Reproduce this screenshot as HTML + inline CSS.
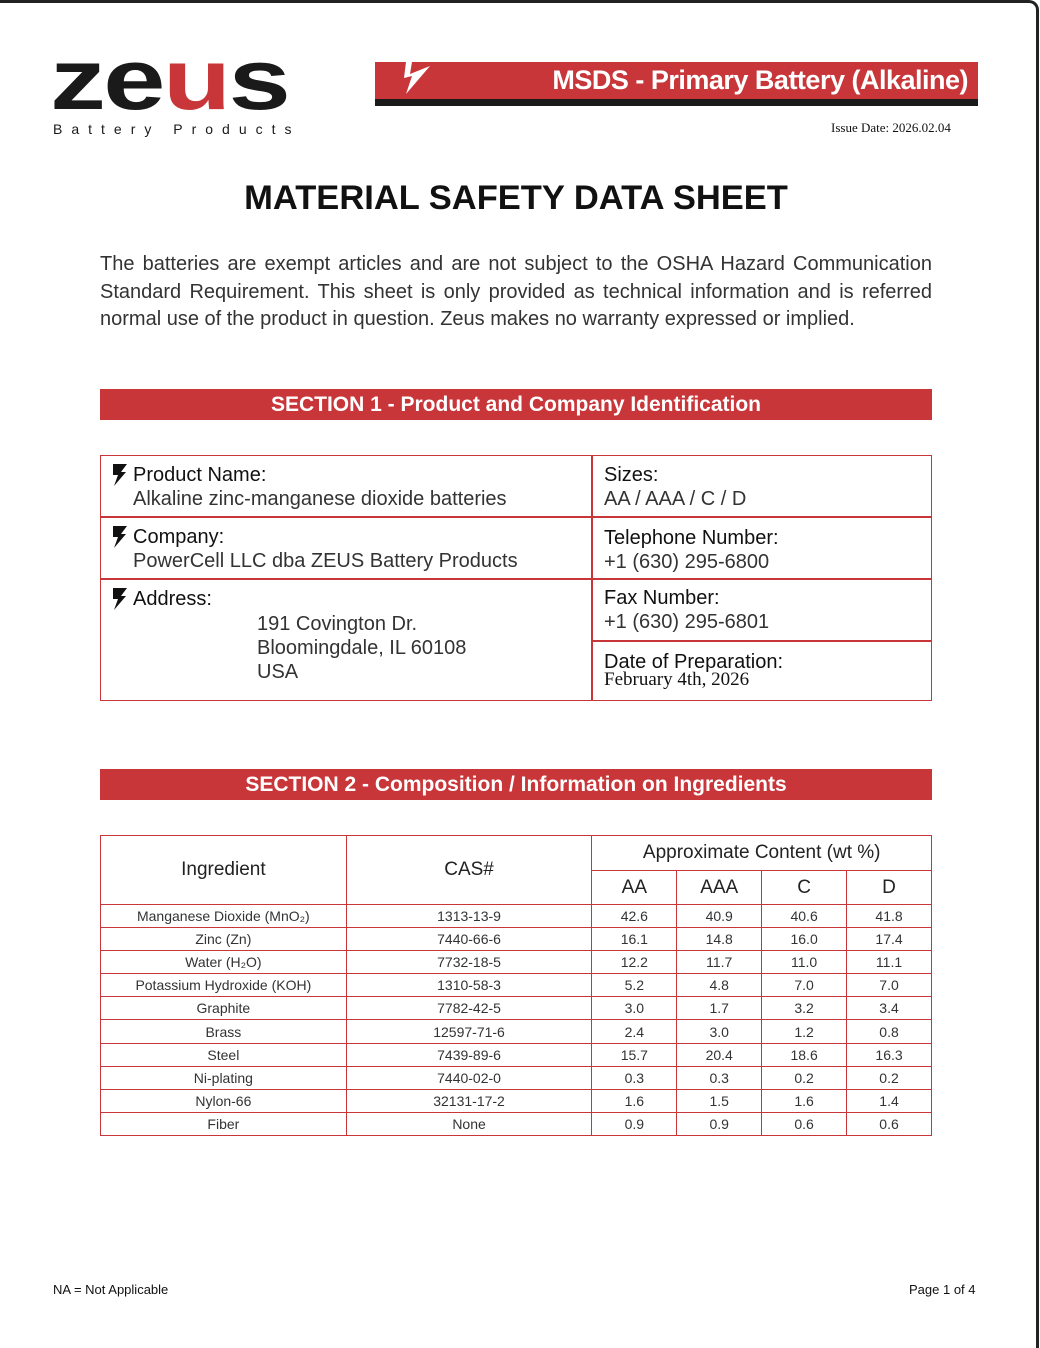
<!DOCTYPE html>
<html><head><meta charset="utf-8"><style>
body{margin:0;background:#fff;}
.page{position:relative;width:1040px;height:1348px;overflow:hidden;font-family:"Liberation Sans",sans-serif;color:#222;}
.frame{position:absolute;left:-10px;top:0;width:1046px;height:1400px;border-top:3px solid #222;border-right:3px solid #222;border-top-right-radius:10px;}
.abs{position:absolute;}
.sec{position:absolute;left:100px;width:832px;height:31px;background:#c8363a;color:#fff;font-weight:bold;font-size:21px;text-align:center;line-height:31px;}
table{border-collapse:collapse;position:absolute;}
td{border:1.5px solid #c8363a;padding:0;}
.t2 td{text-align:center;font-size:14px;height:22.1px;color:#333;}
.t2 .h td{font-size:19px;color:#222;}
.lbl{font-size:20px;color:#111;}
.val{font-size:20px;color:#333;}
</style></head><body><div class="page">
<div class="frame"></div>
<div class="abs" style="left:50px;top:30px;font-size:86px;font-weight:bold;letter-spacing:-2px;line-height:100px;color:#1a1a1a;transform:scaleX(1.3);transform-origin:left top;">ze<span style="color:#c8363a">u</span>s</div>
<div class="abs" style="left:53px;top:121px;font-size:14px;letter-spacing:9px;color:#1a1a1a;">Battery Products</div>
<div class="abs" style="left:375px;top:62px;width:603px;height:37px;background:#c8363a;"></div>
<div class="abs" style="left:375px;top:99px;width:603px;height:7px;background:#1a1a1a;"></div>
<svg class="abs" style="left:400px;top:62px" width="35" height="34"><polygon points="6,0 12,0 10,12 30,4 6,32 12,14 4,16" fill="#fff"/></svg>
<div class="abs" style="left:375px;top:62px;width:593px;height:37px;text-align:right;color:#fff;font-weight:bold;font-size:27px;line-height:37px;letter-spacing:-0.5px;">MSDS - Primary Battery (Alkaline)</div>
<div class="abs" style="left:831px;top:120px;font-family:'Liberation Serif',serif;font-size:13px;color:#111;">Issue Date: 2026.02.04</div>
<div class="abs" style="left:0;width:1032px;top:179px;text-align:center;font-size:34.5px;font-weight:bold;color:#111;">MATERIAL SAFETY DATA SHEET</div>
<div class="abs" style="left:100px;top:251px;width:832px;font-size:20px;line-height:27.5px;text-align:justify;color:#333;">The batteries are exempt articles and are not subject to the OSHA Hazard Communication Standard Requirement. This sheet is only provided as technical information and is referred normal use of the product in question. Zeus makes no warranty expressed or implied.</div>
<div class="sec" style="top:389px">SECTION 1 - Product and Company Identification</div>
<div class="abs" style="left:100px;top:455px;width:830px;height:244px;border:1.5px solid #c8363a;"></div>
<div class="abs" style="left:591px;top:455px;width:1.5px;height:245px;background:#c8363a;"></div>
<div class="abs" style="left:100px;top:516px;width:832px;height:1.5px;background:#c8363a;"></div>
<div class="abs" style="left:100px;top:578px;width:832px;height:1.5px;background:#c8363a;"></div>
<div class="abs" style="left:592px;top:640px;width:340px;height:1.5px;background:#c8363a;"></div>
<svg class="abs" style="left:111px;top:464px" width="17" height="22"><polygon points="2,0 16,0 10,8 15,8 3,22 7,11 2,11" fill="#111"/></svg>
<svg class="abs" style="left:111px;top:526px" width="17" height="22"><polygon points="2,0 16,0 10,8 15,8 3,22 7,11 2,11" fill="#111"/></svg>
<svg class="abs" style="left:111px;top:588px" width="17" height="22"><polygon points="2,0 16,0 10,8 15,8 3,22 7,11 2,11" fill="#111"/></svg>
<div class="abs lbl" style="left:133px;top:464px">Product Name:</div>
<div class="abs val" style="left:133px;top:488px">Alkaline zinc-manganese dioxide batteries</div>
<div class="abs lbl" style="left:133px;top:526px">Company:</div>
<div class="abs val" style="left:133px;top:550px">PowerCell LLC dba ZEUS Battery Products</div>
<div class="abs lbl" style="left:133px;top:588px">Address:</div>
<div class="abs val" style="left:257px;top:612px;line-height:24px">191 Covington Dr.<br>Bloomingdale, IL 60108<br>USA</div>
<div class="abs lbl" style="left:604px;top:464px">Sizes:</div>
<div class="abs val" style="left:604px;top:488px">AA / AAA / C / D</div>
<div class="abs lbl" style="left:604px;top:527px">Telephone Number:</div>
<div class="abs val" style="left:604px;top:551px">+1 (630) 295-6800</div>
<div class="abs lbl" style="left:604px;top:587px">Fax Number:</div>
<div class="abs val" style="left:604px;top:611px">+1 (630) 295-6801</div>
<div class="abs lbl" style="left:604px;top:651px">Date of Preparation:</div>
<div class="abs" style="left:604px;top:669px;font-family:'Liberation Serif',serif;font-size:19px;color:#111">February 4th, 2026</div>
<div class="sec" style="top:769px">SECTION 2 - Composition / Information on Ingredients</div>
<table class="t2" style="left:100px;top:835px;width:832px;">
<colgroup><col style="width:246px"><col style="width:246px"><col style="width:85px"><col style="width:85px"><col style="width:85px"><col style="width:85px"></colgroup>
<tr class="h"><td rowspan="2">Ingredient</td><td rowspan="2">CAS#</td><td colspan="4" style="height:34px">Approximate Content (wt %)</td></tr>
<tr class="h"><td style="height:33px">AA</td><td>AAA</td><td>C</td><td>D</td></tr>
<tr><td>Manganese Dioxide (MnO₂)</td><td>1313-13-9</td><td>42.6</td><td>40.9</td><td>40.6</td><td>41.8</td></tr>
<tr><td>Zinc (Zn)</td><td>7440-66-6</td><td>16.1</td><td>14.8</td><td>16.0</td><td>17.4</td></tr>
<tr><td>Water (H₂O)</td><td>7732-18-5</td><td>12.2</td><td>11.7</td><td>11.0</td><td>11.1</td></tr>
<tr><td>Potassium Hydroxide (KOH)</td><td>1310-58-3</td><td>5.2</td><td>4.8</td><td>7.0</td><td>7.0</td></tr>
<tr><td>Graphite</td><td>7782-42-5</td><td>3.0</td><td>1.7</td><td>3.2</td><td>3.4</td></tr>
<tr><td>Brass</td><td>12597-71-6</td><td>2.4</td><td>3.0</td><td>1.2</td><td>0.8</td></tr>
<tr><td>Steel</td><td>7439-89-6</td><td>15.7</td><td>20.4</td><td>18.6</td><td>16.3</td></tr>
<tr><td>Ni-plating</td><td>7440-02-0</td><td>0.3</td><td>0.3</td><td>0.2</td><td>0.2</td></tr>
<tr><td>Nylon-66</td><td>32131-17-2</td><td>1.6</td><td>1.5</td><td>1.6</td><td>1.4</td></tr>
<tr><td>Fiber</td><td>None</td><td>0.9</td><td>0.9</td><td>0.6</td><td>0.6</td></tr>
</table>
<div class="abs" style="left:53px;top:1282px;font-size:13px;color:#111">NA = Not Applicable</div>
<div class="abs" style="left:909px;top:1282px;font-size:13px;color:#111">Page 1 of 4</div>
</div></body></html>
